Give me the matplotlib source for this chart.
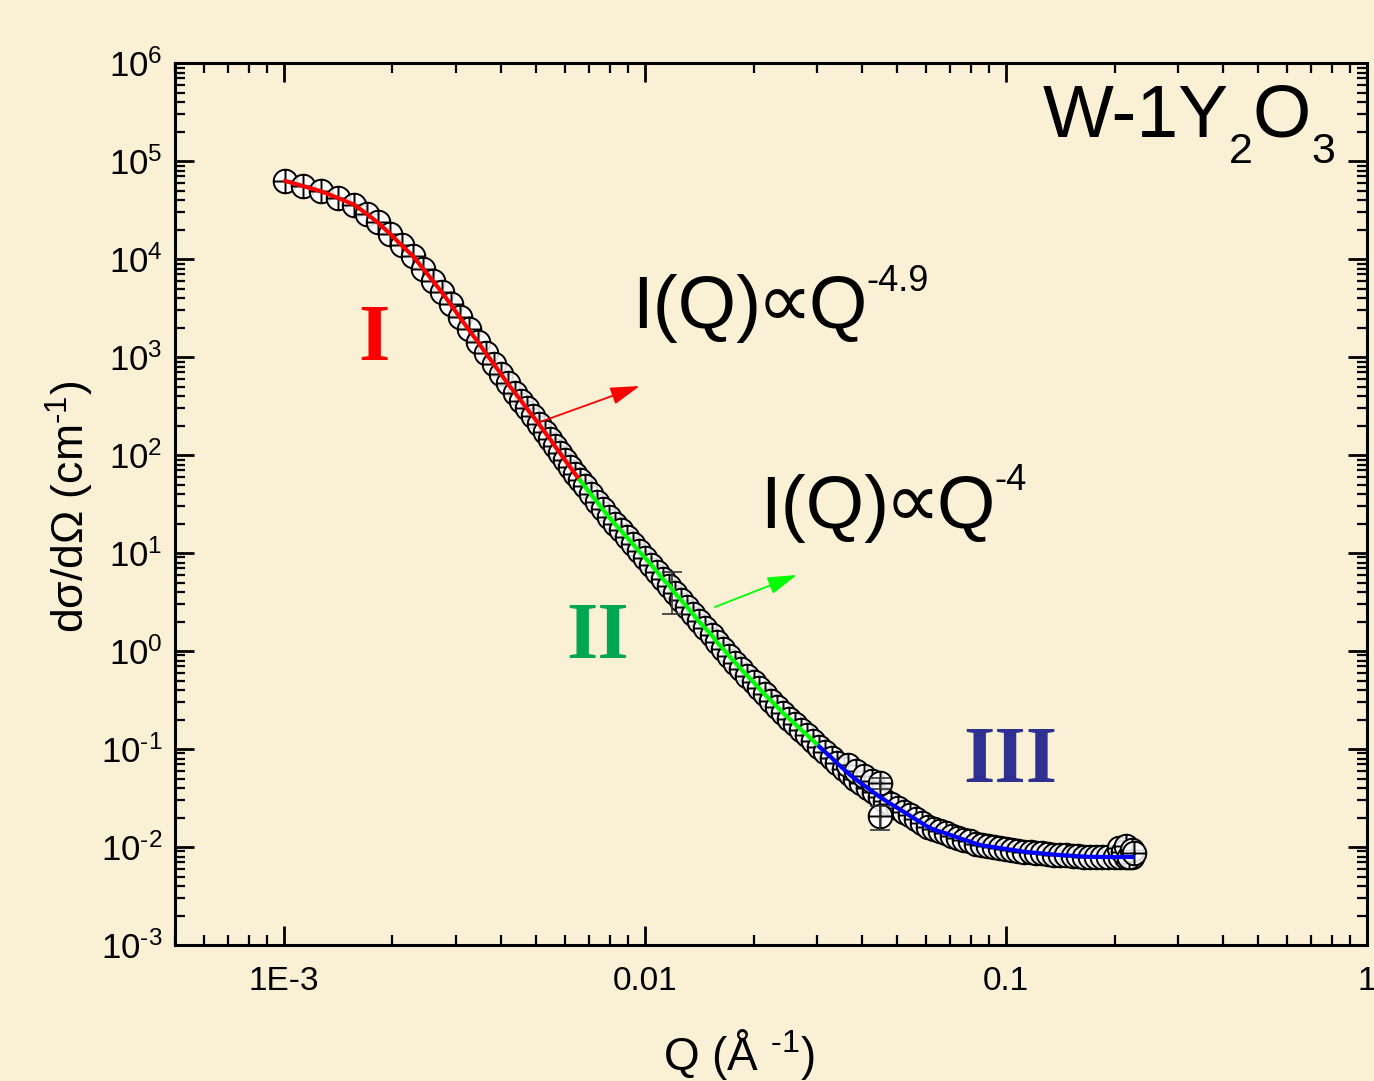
import numpy as np
import matplotlib
matplotlib.use("Agg")
import matplotlib.pyplot as plt
from matplotlib.path import Path
from matplotlib.ticker import LogLocator, NullFormatter

plt.rcParams["font.family"] = ["Liberation Sans", "DejaVu Sans"]
plt.rcParams["mathtext.fontset"] = "custom"
plt.rcParams["mathtext.rm"] = "Liberation Sans"
plt.rcParams["mathtext.it"] = "Liberation Sans:italic"
plt.rcParams["mathtext.bf"] = "Liberation Sans:bold"

# SANS curve of W-1Y2O3
# region I (red fit)
q_1 = [0.00101, 0.00113, 0.00127, 0.00141, 0.00157, 0.00170, 0.00182, 0.00197,
       0.00212, 0.00228, 0.00243, 0.00259, 0.00274, 0.00290, 0.00307, 0.00325,
       0.00345, 0.00363, 0.00382, 0.00399, 0.00417, 0.00437, 0.00454, 0.00471,
       0.00490, 0.00509, 0.00528, 0.00546, 0.00563, 0.00582, 0.00600, 0.00620,
       0.00640, 0.00661]
i_1 = [6.25e4, 5.56e4, 4.90e4, 4.21e4, 3.57e4, 2.88e4, 2.36e4, 1.81e4,
       1.38e4, 1.07e4, 8.00e3, 5.96e3, 4.57e3, 3.44e3, 2.56e3, 1.91e3,
       1.42e3, 1.09e3, 845, 675, 538, 431, 359, 299,
       248, 207, 172, 146, 124, 105, 89.5, 76.0,
       64.6, 55.4]
# region II (green fit)
q_2 = [0.00681, 0.00708, 0.00736, 0.00764, 0.00794, 0.00825, 0.00858, 0.00891,
       0.00926, 0.00962, 0.0100, 0.0104, 0.0108, 0.0112, 0.0117, 0.0121,
       0.0126, 0.0131, 0.0136, 0.0141, 0.0147, 0.0153, 0.0158, 0.0165,
       0.0171, 0.0178, 0.0185, 0.0192, 0.0200, 0.0207, 0.0215, 0.0224,
       0.0233, 0.0242, 0.0251, 0.0261, 0.0271, 0.0282, 0.0293, 0.0304]
i_2 = [48.0, 40.1, 33.5, 28.1, 23.5, 19.9, 17.0, 14.5,
       12.4, 10.5, 8.99, 7.63, 6.46, 5.47, 4.63, 3.92,
       3.32, 2.81, 2.38, 2.01, 1.71, 1.46, 1.24, 1.05,
       0.895, 0.761, 0.650, 0.561, 0.483, 0.417, 0.360, 0.310,
       0.267, 0.232, 0.204, 0.179, 0.157, 0.138, 0.121, 0.106]
# region III (blue fit)
q_3 = [0.0316, 0.0329, 0.0341, 0.0355, 0.0369, 0.0383, 0.0398, 0.0414,
       0.0430, 0.0447, 0.0464, 0.0482, 0.0501, 0.0521, 0.0541, 0.0562,
       0.0584, 0.0607, 0.0631, 0.0656, 0.0681, 0.0708, 0.0736, 0.0764,
       0.0794, 0.0825, 0.0858, 0.0891, 0.0926, 0.0962, 0.100, 0.104,
       0.108, 0.112, 0.117, 0.121, 0.126, 0.131, 0.136, 0.141,
       0.147, 0.153, 0.158, 0.165, 0.171, 0.178, 0.185, 0.192,
       0.200, 0.207, 0.215, 0.224]
i_3 = [0.0930, 0.0815, 0.0715, 0.0627, 0.0550, 0.0494, 0.0445, 0.0401,
       0.0361, 0.0326, 0.0298, 0.0273, 0.0250, 0.0229, 0.0210, 0.0192,
       0.0176, 0.0161, 0.0151, 0.0144, 0.0138, 0.0131, 0.0125, 0.0119,
       0.0114, 0.0108, 0.0104, 0.0102, 0.00997, 0.00977, 0.00956, 0.00936,
       0.00916, 0.00897, 0.00883, 0.00872, 0.00860, 0.00849, 0.00838, 0.00828,
       0.00821, 0.00814, 0.00807, 0.00800, 0.00793, 0.00795, 0.00790, 0.00792,
       0.00788, 0.00790, 0.00793, 0.00791]
# scattered points (overlap region near 0.04 and the high-Q end)
q_extra = [0.0365, 0.0385, 0.0405, 0.0425, 0.206, 0.211, 0.215, 0.219, 0.223, 0.227]
i_extra = [0.068, 0.060, 0.053, 0.047, 0.0098, 0.0088, 0.0102, 0.0079, 0.0094, 0.0086]
# points with visible error bars
q_err = [0.0119, 0.0448, 0.0448]
i_err = [4.4, 0.045, 0.0205]
i_err_size = [2.0, 0.006, 0.0055]

x_ticks = [1e-3, 1e-2, 1e-1, 1]
x_tick_labels = ["1E-3", "0.01", "0.1", "1"]
y_ticks = [1e-3, 1e-2, 1e-1, 1e0, 1e1, 1e2, 1e3, 1e4, 1e5, 1e6]
y_tick_labels = [r"$10^{\text{-}3}$", r"$10^{\text{-}2}$", r"$10^{\text{-}1}$",
                 r"$10^{0}$", r"$10^{1}$", r"$10^{2}$", r"$10^{3}$",
                 r"$10^{4}$", r"$10^{5}$", r"$10^{6}$"]

bg = "#faf0d6"

# open circle with a cross inside (Origin style)
circ = Path.unit_circle()
verts = np.concatenate([circ.vertices, [[-1, 0], [1, 0], [0, -1], [0, 1]]])
codes = np.concatenate([circ.codes, [Path.MOVETO, Path.LINETO, Path.MOVETO, Path.LINETO]])
circle_cross = Path(verts, codes)
mstyle = dict(ls="none", marker=circle_cross, ms=17, mfc=(1, 1, 1, 0.85),
              mec="black", mew=1.4)

fig = plt.figure(figsize=(13.74, 10.81), dpi=100)
fig.patch.set_facecolor(bg)
ax = fig.add_axes([0.1274, 0.1258, 0.8675, 0.8159])
ax.set_facecolor(bg)
ax.set_xscale("log")
ax.set_yscale("log")

ax.plot(q_1 + q_2 + q_3, i_1 + i_2 + i_3, zorder=2, **mstyle)
ax.plot(q_extra + q_err[1:], i_extra + i_err[1:], zorder=2, **mstyle)
ax.errorbar(q_err, i_err, yerr=i_err_size, fmt="none", ecolor="#333333",
            elinewidth=1.2, capsize=7, capthick=1.2, zorder=3)

# fit lines
ax.plot(q_1, i_1, color="red", lw=3, zorder=4)
ax.plot([q_1[-1]] + q_2, [i_1[-1]] + i_2, color="#00ff00", lw=3, zorder=4)
ax.plot([q_2[-1]] + q_3, [i_2[-1]] + i_3, color="blue", lw=3, zorder=4)

ax.set_xlim(5e-4, 1)
ax.set_ylim(1e-3, 1e6)
ax.set_xticks(x_ticks, x_tick_labels)
ax.set_yticks(y_ticks, y_tick_labels)
for axis in (ax.xaxis, ax.yaxis):
    axis.set_minor_locator(LogLocator(base=10, subs=np.arange(2, 10), numticks=100))
    axis.set_minor_formatter(NullFormatter())

ax.tick_params(which="both", direction="in", top=True, right=True)
ax.tick_params(which="major", length=14, width=2.0)
ax.tick_params(which="minor", length=7, width=1.6)
ax.tick_params(axis="x", labelsize=24, pad=15)
ax.tick_params(axis="y", labelsize=25, pad=9)
for s in ax.spines.values():
    s.set_linewidth(2.2)

# region labels
ax.text(1.775e-3, 931, "I", color="#ff0000", fontsize=58, fontweight="bold",
        family="Liberation Serif", ha="center", va="baseline")
ax.text(7.41e-3, 0.848, "II", color="#00a651", fontsize=58, fontweight="bold",
        family="Liberation Serif", ha="center", va="baseline")
ax.text(0.1026, 0.0461, "III", color="#2e3192", fontsize=58, fontweight="bold",
        family="Liberation Serif", ha="center", va="baseline")


def chain(prev, txt, y, size, dx=0, dy=0, **kw):
    # put txt right after prev, baseline at data y shifted by dy points
    return ax.annotate(txt, xy=(1, y), xycoords=(prev, "data"),
                       xytext=(dx, dy), textcoords="offset points",
                       fontsize=size, ha="left", va="baseline", **kw)


# power-law annotations
y0 = 1977
t = ax.text(9.21e-3, y0, "I(Q)", fontsize=54, va="baseline")
t = chain(t, "\u221d", y0, 56, dx=-3, dy=1, family=["DejaVu Sans"])
t = chain(t, "Q", y0, 54, dx=-3)
chain(t, "-4.9", y0, 26, dy=27)

y0 = 18.0
t = ax.text(0.02085, y0, "I(Q)", fontsize=54, va="baseline")
t = chain(t, "\u221d", y0, 56, dx=-3, dy=1, family=["DejaVu Sans"])
t = chain(t, "Q", y0, 54, dx=-3)
chain(t, "-4", y0, 26, dy=27)

ax.annotate("", xy=(9.68e-3, 506), xytext=(5.12e-3, 217),
            arrowprops=dict(arrowstyle="-|>,head_length=0.9,head_width=0.27",
                            color="red", lw=1.3, shrinkA=0, shrinkB=0,
                            mutation_scale=20))
ax.annotate("", xy=(0.02637, 5.97), xytext=(0.01563, 2.81),
            arrowprops=dict(arrowstyle="-|>,head_length=0.9,head_width=0.27",
                            color="#00ff00", lw=1.3, shrinkA=0, shrinkB=0,
                            mutation_scale=20))

# sample name
y0 = 1.76e5
t = ax.text(0.1266, y0, "W-1Y", fontsize=54, va="baseline")
t = chain(t, "2", y0, 31, dy=-19)
t = chain(t, "O", y0, 54)
chain(t, "3", y0, 31, dy=-19)

fig.text(0.0509, 0.531, "d\u03c3/d\u03a9 (cm$^{\\text{-}1}$)", rotation=90,
         fontsize=32, ha="center", va="center")
fig.text(0.538, 1 - 1070 / 1081, "Q (\u00c5 $^{\\text{-}1}$)", fontsize=33,
         ha="center", va="baseline")

fig.savefig("out.png", dpi=100, facecolor=bg)
